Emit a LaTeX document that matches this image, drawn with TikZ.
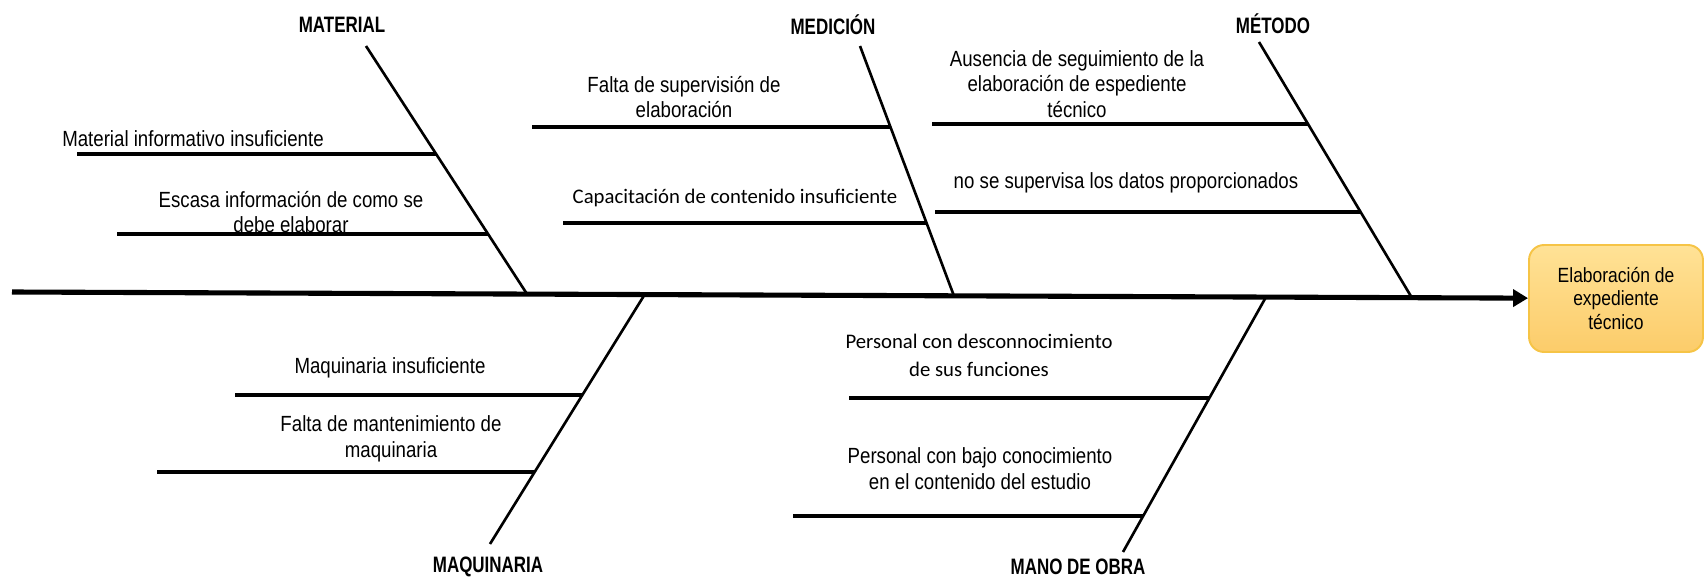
\documentclass[tikz,border=0pt]{standalone}
\usepackage{fontspec}
\usepackage{tikz}
\usetikzlibrary{arrows.meta}
\usetikzlibrary{positioning}

\setmainfont{Liberation Sans}
\newfontfamily\narrowfont[FakeStretch=0.85]{Liberation Sans}
\newfontfamily\headfont[FakeStretch=0.76]{Liberation Sans}
\newfontfamily\calfont{Carlito}

\definecolor{cajaarriba}{RGB}{255,226,150}
\definecolor{cajaabajo}{RGB}{252,204,106}
\definecolor{cajaborde}{RGB}{246,196,70}

\tikzset{
	spine/.style={line width=2.9pt,-{Triangle[length=0.3cm,width=0.34cm]}},
	bone/.style={line width=1.5pt},
	twig/.style={line width=1.8pt},
	causa/.style={font={\headfont\bfseries\fontsize{12.7}{15}\selectfont},inner sep=0pt},
	texto/.style={font={\narrowfont\fontsize{12.5}{14.7}\selectfont},align=center,inner sep=0pt},
	textocal/.style={font={\calfont\fontsize{11.8}{15.9}\selectfont},align=center,inner sep=0pt},
	efectobox/.style={draw=cajaborde,line width=1.1pt,rounded corners=0.3cm,
		top color=cajaarriba,bottom color=cajaabajo,
		minimum width=3.48cm,minimum height=2.14cm,align=center,
		font={\narrowfont\fontsize{11.7}{13.3}\selectfont}}
}

\begin{document}
\begin{tikzpicture}[x=0.02cm,y=-0.02cm]
		\useasboundingbox (0,0) rectangle (1705,581);
		% effect
		\node[efectobox] (efecto) at (1616,298.5) {Elaboración de\\expediente\\técnico};
		% spine
		\coordinate (cola) at (12,292);
		\draw[spine] (cola) -- (efecto);
		% main causes
		\node[causa] (material) at (342,25) {MATERIAL};
		\node[causa] (medicion) at (833,25) {MEDICIÓN};
		\node[causa] (metodo) at (1273,24) {MÉTODO};
		\node[causa] (maquinaria) at (488,567) {MAQUINARIA};
		\node[causa] (manoobra) at (1078,567) {MANO DE OBRA};
		% bones
		\coordinate (mat-top) at (366,46);   \coordinate (mat-bot) at (527,294);
		\coordinate (med-top) at (860,46);   \coordinate (med-bot) at (954,296);
		\coordinate (met-top) at (1259,42);  \coordinate (met-bot) at (1412,298);
		\coordinate (maq-top) at (645,294);  \coordinate (maq-bot) at (490,544);
		\coordinate (mob-top) at (1266,297); \coordinate (mob-bot) at (1123,552);
		\foreach \b in {mat,med,met,maq,mob} {
			\draw[bone] (\b-top) -- (\b-bot);
		}
		% sub causes
		\coordinate (mat1a) at (77,154);  \coordinate (mat1b) at (436,154);
		\coordinate (mat2a) at (117,234); \coordinate (mat2b) at (488,234);
		\coordinate (med1a) at (532,127); \coordinate (med1b) at (890,127);
		\coordinate (med2a) at (563,223); \coordinate (med2b) at (927,223);
		\coordinate (met1a) at (932,124); \coordinate (met1b) at (1308,124);
		\coordinate (met2a) at (935,212); \coordinate (met2b) at (1361,212);
		\coordinate (maq1a) at (235,395); \coordinate (maq1b) at (582,395);
		\coordinate (maq2a) at (157,472); \coordinate (maq2b) at (535,472);
		\coordinate (mob1a) at (849,398); \coordinate (mob1b) at (1209,398);
		\coordinate (mob2a) at (793,516); \coordinate (mob2b) at (1143,516);
		\foreach \s in {mat1,mat2,med1,med2,met1,met2,maq1,maq2,mob1,mob2} {
			\draw[twig] (\s a) -- (\s b);
		}
		% labels
		\node[texto] (t-mat1) at (193,139) {Material informativo insuficiente};
		\node[texto] (t-mat2) at (291,212) {Escasa información de como se\\debe elaborar};
		\node[texto] (t-med1) at (684,97) {Falta de supervisión de\\elaboración};
		\node[textocal] (t-med2) at (735,198) {Capacitación de contenido insuficiente};
		\node[texto] (t-met1) at (1077,84) {Ausencia de seguimiento de la\\elaboración de espediente\\técnico};
		\node[texto] (t-met2) at (1126,183) {no se supervisa los datos proporcionados};
		\node[texto] (t-maq1) at (390,368) {Maquinaria insuficiente};
		\node[texto] (t-maq2) at (391,439) {Falta de mantenimiento de\\maquinaria};
		\node[textocal] (t-mob1) at (979,355) {Personal con desconnocimiento\\de sus funciones};
		\node[texto] (t-mob2) at (980,469) {Personal con bajo conocimiento\\en el contenido del estudio};
	\end{tikzpicture}
\end{document}
